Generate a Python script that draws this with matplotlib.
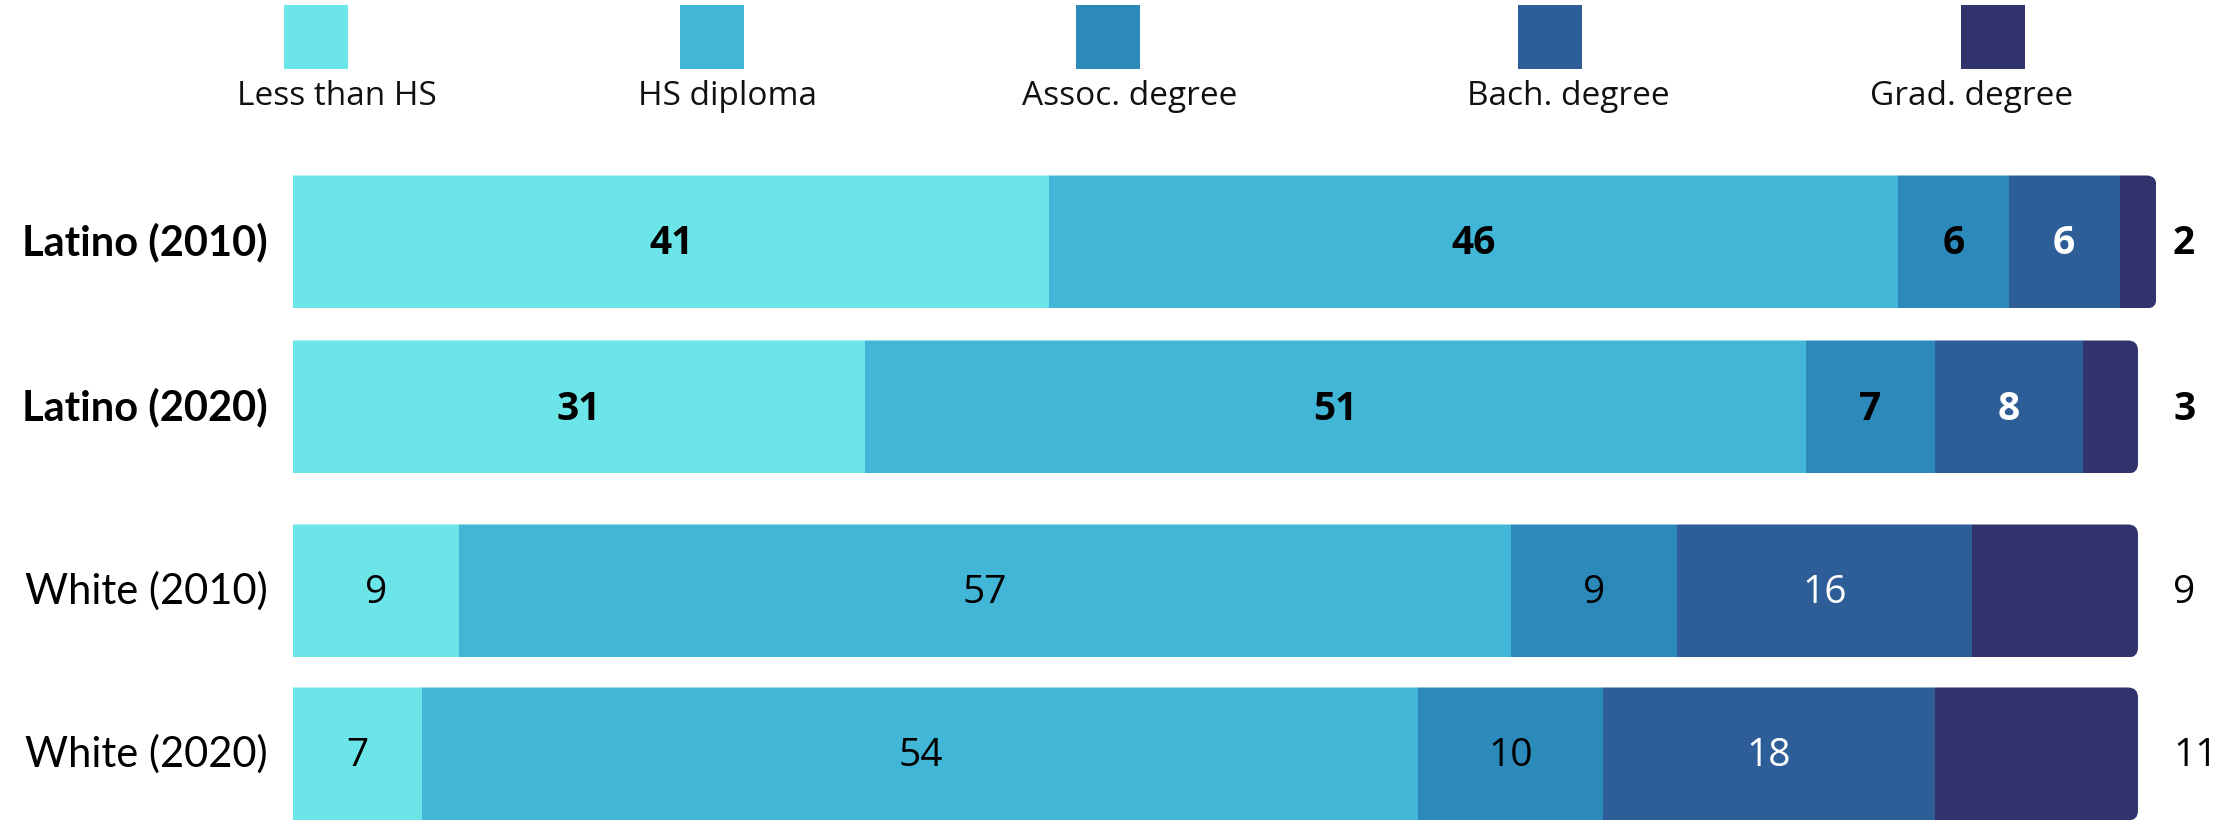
import matplotlib
matplotlib.use("Agg")
import matplotlib.pyplot as plt
import matplotlib.patches as mpatches
import numpy as np

# ── data ────────────────────────────────────────────────────────────────
groups = ["Latino (2010)", "Latino (2020)", "White (2010)", "White (2020)"]
categories = ["Less than HS", "HS diploma", "Assoc. degree", "Bach. degree", "Grad. degree"]
less_hs = [41, 31, 9, 7]
hs_dipl = [46, 51, 57, 54]
assoc = [6, 7, 9, 10]
bach = [6, 8, 16, 18]
grad = [2, 3, 9, 11]
bold_rows = [True, True, False, False]

COLORS = ["#6ce5e9", "#41b6d6", "#2b8aba", "#2e5e98", "#31346c"]
TEXT_COL = ["black", "black", "black", "white", "black"]

W, H = 2221, 821
fig = plt.figure(figsize=(W / 100, H / 100), dpi=100)

# main axes: x in percent, y in pixels from top
x0_px, unit_px = 293, 18.45
XMAX = 104
ax = fig.add_axes([x0_px / W, 0, XMAX * unit_px / W, 1])
ax.set_xlim(0, XMAX)
ax.set_ylim(H, 0)
ax.axis("off")

ypos = [242, 407, 591, 754]
bar_h = 133
series = [less_hs, hs_dipl, assoc, bach, grad]
NUM_FONT = "Open Sans"

for i, g in enumerate(groups):
    vals = [s[i] for s in series]
    total = sum(vals)
    # clip shape: rounded at right end, square at left (extends past 0)
    r = 10 / unit_px
    clip = mpatches.FancyBboxPatch((-2, ypos[i] - bar_h / 2), total + 2, bar_h,
                                   boxstyle=f"round,pad=0,rounding_size={r}",
                                   mutation_aspect=unit_px,
                                   transform=ax.transData, facecolor="none",
                                   edgecolor="none")
    ax.add_patch(clip)
    left = 0
    wt = "bold" if bold_rows[i] else "normal"
    for j, v in enumerate(vals):
        bars = ax.barh(ypos[i], v, left=left, height=bar_h, color=COLORS[j],
                       linewidth=0)
        bars[0].set_clip_path(clip)
        if j < 4:
            ax.text(left + v / 2, ypos[i] + 2, f"{v}", ha="center", va="center",
                    fontsize=28, color=TEXT_COL[j], fontweight=wt,
                    family=NUM_FONT)
        else:
            ax.text(101.9, ypos[i] + 2, f"{v}", ha="left", va="center",
                    fontsize=28, color="black", fontweight=wt,
                    family=NUM_FONT)
        left += v
    ax.text(-(x0_px - 268) / unit_px, ypos[i], g, ha="right", va="center",
            fontsize=30, fontweight=wt, family="Lato", color="black",
            clip_on=False)

# legend drawn in pixel space
lax = fig.add_axes([0, 0, 1, 1])
lax.set_xlim(0, W)
lax.set_ylim(H, 0)
lax.axis("off")
sq_cx = [316, 712, 1108, 1550, 1993]
txt_cx = [337, 728, 1130, 1568, 1972]
for j, c in enumerate(categories):
    lax.add_patch(mpatches.Rectangle((sq_cx[j] - 32, 5), 64, 64,
                                     facecolor=COLORS[j], edgecolor="none"))
    lax.text(txt_cx[j], 105, c, ha="center", va="baseline", fontsize=24,
             family=NUM_FONT, color="#111111")

fig.savefig("out.png", dpi=100)
